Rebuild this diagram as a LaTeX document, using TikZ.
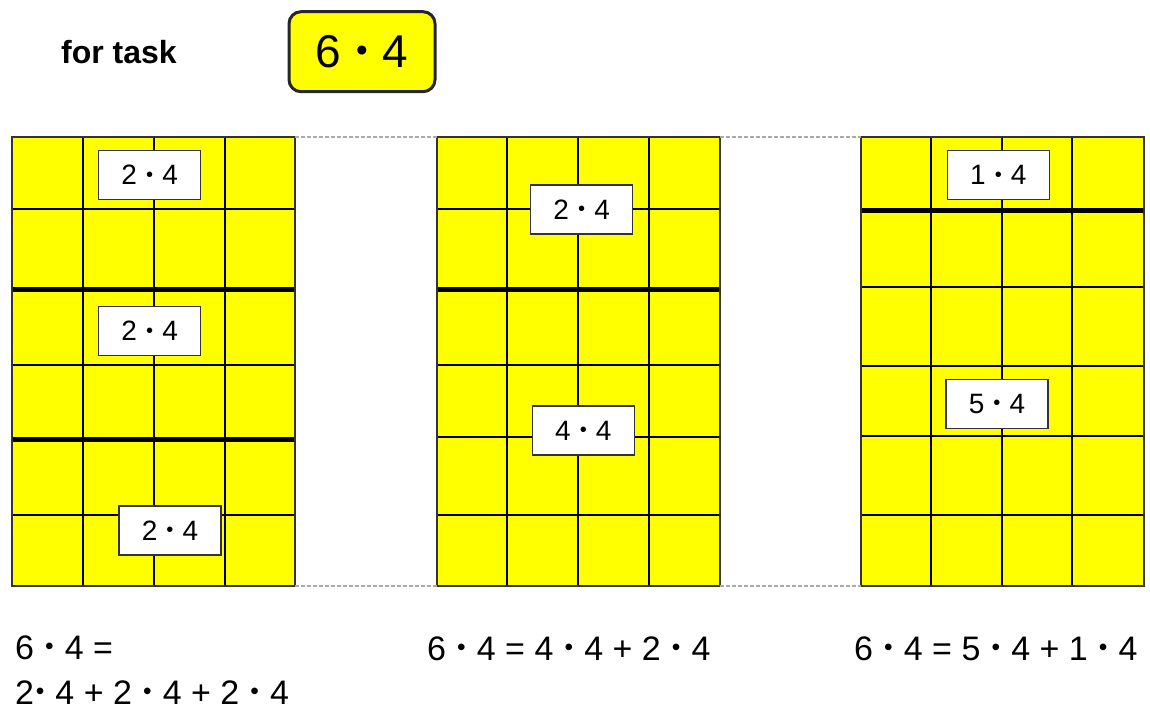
\documentclass[tikz,border=0pt]{standalone}
\usepackage{fontspec}
\setmainfont{Liberation Sans}
\definecolor{gridyellow}{RGB}{255,255,0}
\definecolor{edgegray}{RGB}{51,51,51}
\definecolor{gapgray}{RGB}{170,170,170}
\newcommand\mybul{\makebox[0.35em]{\raisebox{0.125em}{\scalebox{0.72}{•}}}}
\tikzset{
  gridarea/.style={fill=gridyellow, inner sep=0pt, outer sep=0pt, anchor=north west, minimum width=283pt, minimum height=449pt},
  cellline/.style={line width=1.5pt, black},
  thickline/.style={line width=5pt, black},
  outerline/.style={line width=2pt, draw=edgegray},
  labelbox/.style={draw=edgegray, line width=1.5pt, fill=white, minimum width=102pt, minimum height=49pt, inner sep=0pt, font=\fontsize{28}{28}\selectfont},
  gapline/.style={draw=gapgray, line width=1.5pt, dash pattern=on 4pt off 2pt},
  eqtext/.style={font=\fontsize{34}{34}\selectfont, anchor=base west, inner sep=0pt},
}
\begin{document}
\begin{tikzpicture}[x=1pt,y=-1pt]
\useasboundingbox (0,0) rectangle (1150,711);

% title and task box
\node[anchor=base west, inner sep=0pt, font=\bfseries\fontsize{32}{32}\selectfont] (title) at (61,64) {for task};
\node[draw=black!85, line width=3pt, rounded corners=12pt, fill=gridyellow, minimum width=146pt, minimum height=80pt, inner sep=0pt, font=\fontsize{46}{46}\selectfont] (task) at (362,51.7) {6 \mybul{} 4};

% grid areas
\node[gridarea] (g1) at (12,137) {};
\node[gridarea] (g2) at (437,137) {};
\node[gridarea] (g3) at (861,137) {};

% grid 1
\foreach \x in {83,154,225} \draw[cellline] (\x,137) -- (\x,586);
\foreach \y in {209,365,515} \draw[cellline] (12,\y) -- (295,\y);
\foreach \y in {289,439} \draw[thickline] (12,\y) -- (295,\y);
\draw[outerline] (g1.north west) rectangle (g1.south east);

% grid 2
\foreach \x in {507,578,649} \draw[cellline] (\x,137) -- (\x,586);
\foreach \y in {209,365,437,515} \draw[cellline] (437,\y) -- (720,\y);
\draw[thickline] (437,289) -- (720,289);
\draw[outerline] (g2.north west) rectangle (g2.south east);

% grid 3
\foreach \x in {931,1002,1072} \draw[cellline] (\x,137) -- (\x,586);
\foreach \y in {287,366,436,515} \draw[cellline] (861,\y) -- (1144,\y);
\draw[thickline] (861,211) -- (1144,211);
\draw[outerline] (g3.north west) rectangle (g3.south east);

% dashed gap lines
\draw[gapline] (g1.north east) -- (g2.north west);
\draw[gapline] (g1.south east) -- (g2.south west);
\draw[gapline] (g2.north east) -- (g3.north west);
\draw[gapline] (g2.south east) -- (g3.south west);

% labels
\node[labelbox] (l1a) at (149.7,175) {2 \mybul{} 4\hspace{11pt}};
\node[labelbox] (l1b) at (149.7,331) {2 \mybul{} 4\hspace{11pt}};
\node[labelbox] (l1c) at (170,530.5) {2 \mybul{} 4\hspace{11pt}};
\node[labelbox] (l2a) at (581.7,209.3) {2 \mybul{} 4\hspace{11pt}};
\node[labelbox] (l2b) at (583.3,430.7) {4 \mybul{} 4\hspace{11pt}};
\node[labelbox] (l3a) at (998.3,175) {1 \mybul{} 4\hspace{11pt}};
\node[labelbox] (l3b) at (997,404) {5 \mybul{} 4\hspace{11pt}};

% equations
\node[eqtext] (e1a) at (15,659) {6 \mybul{} 4 =};
\node[eqtext] (e1b) at (15,704) {2\mybul{} 4 + 2 \mybul{} 4 + 2 \mybul{} 4};
\node[eqtext] (e2) at (427,660) {6 \mybul{} 4 = 4 \mybul{} 4 + 2 \mybul{} 4};
\node[eqtext] (e3) at (854,660) {6 \mybul{} 4 = 5 \mybul{} 4 + 1 \mybul{} 4};
\end{tikzpicture}
\end{document}
